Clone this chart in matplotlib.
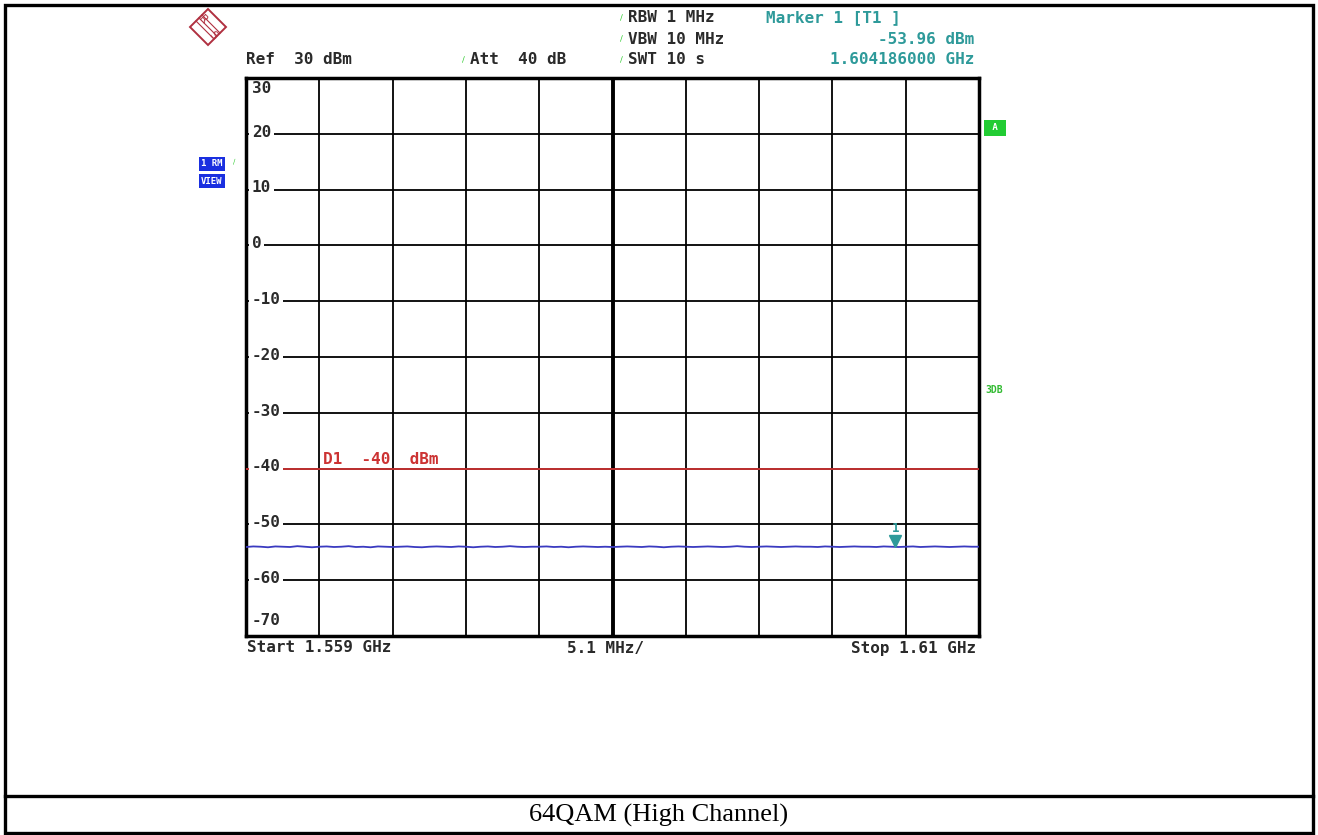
import matplotlib
matplotlib.use("Agg")
import matplotlib.pyplot as plt
from matplotlib.patches import Rectangle, Polygon
import numpy as np

# ---------------- data ----------------
f_start_ghz = 1.559
f_stop_ghz = 1.61
ref_level = 30
y_bottom = -70
ytick_values = [30, 20, 10, 0, -10, -20, -30, -40, -50, -60, -70]
limit_d1 = -40
marker_freq = 1.604186
marker_level = -53.96
# noise trace (dBm), sampled evenly from start to stop
trace_levels = [
    -54.05, -53.95, -54.0, -54.1, -53.95, -54.0, -54.05, -53.9, -54.0, -54.1,
    -54.0, -53.95, -54.05, -54.0, -53.9, -54.05, -54.0, -54.1, -53.95, -54.0,
    -54.05, -54.0, -53.95, -54.05, -54.1, -54.0, -53.95, -54.0, -54.05, -53.95,
    -54.0, -54.1, -54.0, -53.95, -54.05, -54.0, -53.9, -54.0, -54.05, -54.0,
    -54.0, -53.95, -54.05, -54.0, -54.1, -54.0, -53.95, -54.0, -54.05, -54.0,
    -54.05, -54.0, -53.95, -54.0, -54.05, -53.95, -54.0, -54.1, -54.0, -53.95,
    -54.0, -54.05, -54.0, -53.95, -54.0, -54.05, -54.0, -53.9, -54.0, -54.05,
    -54.0, -53.95, -54.0, -54.05, -54.0, -53.95, -54.0, -54.0, -54.05, -53.95,
    -54.0, -54.05, -54.0, -53.95, -54.0, -54.0, -54.05, -53.95, -54.0, -54.05,
    -54.0, -53.95, -54.05, -54.0, -53.95, -54.0, -54.05, -54.0, -53.95, -54.0,
    -54.0,
]
header_left = ["Ref  30 dBm", "Att  40 dB"]
header_mid = ["RBW 1 MHz", "VBW 10 MHz", "SWT 10 s"]
header_marker = ["Marker 1 [T1 ]", "-53.96 dBm", "1.604186000 GHz"]
footer = ["Start 1.559 GHz", "5.1 MHz/", "Stop 1.61 GHz"]
caption = "64QAM (High Channel)"

# ---------------- styling ----------------
W, H = 1318, 835
fig = plt.figure(figsize=(W / 100, H / 100), dpi=100)
fig.patch.set_facecolor("white")

def fx(px):
    return px / W

def fy(py):
    return 1 - py / H

mono = dict(family="DejaVu Sans Mono", fontweight="bold", fontsize=11.5)
teal = "#2e9a9a"
dark = "#2a2a2a"
red = "#cc3333"
blue = "#3a3ac0"
green = "#33cc33"
logo_red = "#b03040"

# outer table frame
fig.add_artist(Rectangle((fx(5), fy(833)), fx(1313 - 5), fy(5) - fy(833),
                         fill=False, lw=2.4, ec="black", transform=fig.transFigure))
fig.add_artist(plt.Line2D([fx(5), fx(1313)], [fy(796), fy(796)], lw=2.4,
                          color="black", transform=fig.transFigure))
fig.text(fx(659), fy(815), caption, ha="center", va="center",
         family="Liberation Serif", fontsize=19, color="black")

# axes
L, R, T, B = 246, 979, 78, 636
ax = fig.add_axes([fx(L), fy(B), fx(R - L), fy(T) - fy(B)])
ax.set_xlim(f_start_ghz, f_stop_ghz)
ax.set_ylim(y_bottom, ref_level)
ax.set_xticks([])
ax.set_yticks([])
for s in ax.spines.values():
    s.set_linewidth(2.5)
    s.set_color("black")

xgrid = np.linspace(f_start_ghz, f_stop_ghz, 11)
for i, xv in enumerate(xgrid[1:-1], start=1):
    ax.axvline(xv, color="black", lw=2.8 if i == 5 else 1.3, zorder=1)
for yv in ytick_values[1:-1]:
    ax.axhline(yv, color="black", lw=1.3, zorder=1)

# y labels
for yv in ytick_values:
    if yv == ref_level:
        ax.text(0.008, yv - 1.8, str(yv), transform=ax.get_yaxis_transform(),
                ha="left", va="center", color=dark, zorder=4, **mono)
    elif yv == y_bottom:
        ax.text(0.008, yv + 2.8, str(yv), transform=ax.get_yaxis_transform(),
                ha="left", va="center", color=dark, zorder=4, **mono)
    else:
        ax.text(0.008, yv + 0.3, str(yv), transform=ax.get_yaxis_transform(),
                ha="left", va="center", color=dark, zorder=4,
                bbox=dict(boxstyle="square,pad=0.15", fc="white", ec="none"), **mono)

# limit line
ax.axhline(limit_d1, color=red, lw=1.3, zorder=3)
ax.text(f_start_ghz + (f_stop_ghz - f_start_ghz) * 0.105, limit_d1 + 0.2,
        "D1  -40  dBm", color=red, ha="left", va="bottom", zorder=4, **mono)

# trace
freqs = np.linspace(f_start_ghz, f_stop_ghz, len(trace_levels))
ax.plot(freqs, trace_levels, color=blue, lw=1.3, zorder=3)

# marker
ax.plot([marker_freq], [marker_level + 0.9], marker="v", color=teal,
        markersize=8, zorder=5)
ax.text(marker_freq, marker_level + 3.3, "1", color=teal, ha="center",
        va="center", zorder=5, family="DejaVu Sans Mono", fontweight="bold",
        fontsize=9)

# R&S logo
cx, cy, r = 208, 27, 18
logo = Polygon([[fx(cx - r), fy(cy)], [fx(cx), fy(cy - r)], [fx(cx + r), fy(cy)],
                [fx(cx), fy(cy + r)]], closed=True, fill=True, fc="white",
               ec=logo_red, lw=1.4, transform=fig.transFigure)
fig.add_artist(logo)
for off in (-3, 0, 3):
    fig.add_artist(plt.Line2D([fx(cx - 9 + off), fx(cx + 9 + off)],
                              [fy(cy - 9 - off), fy(cy + 9 - off)], lw=0.8,
                              color=logo_red, transform=fig.transFigure))
fig.text(fx(cx - 5), fy(cy - 7), "R", ha="center", va="center", color=logo_red,
         fontsize=8, rotation=-45)
fig.text(fx(cx + 5), fy(cy + 8), "S", ha="center", va="center", color=logo_red,
         fontsize=8, rotation=-45)

# header texts
fig.text(fx(246), fy(60), header_left[0], ha="left", va="center", color=dark, **mono)
fig.text(fx(462), fy(60), "\u2215", ha="left", va="center", color=green, fontsize=6)
fig.text(fx(470), fy(60), header_left[1], ha="left", va="center", color=dark, **mono)
for i, t in enumerate(header_mid):
    yy = 18 + 21 * i
    fig.text(fx(620), fy(yy), "\u2215", ha="left", va="center", color=green, fontsize=6)
    fig.text(fx(628), fy(yy), t, ha="left", va="center", color=dark, **mono)
fig.text(fx(766), fy(18), header_marker[0], ha="left", va="center", color=teal, **mono)
fig.text(fx(974), fy(39), header_marker[1], ha="right", va="center", color=teal, **mono)
fig.text(fx(974), fy(60), header_marker[2], ha="right", va="center", color=teal, **mono)

# footer texts
fig.text(fx(247), fy(648), footer[0], ha="left", va="center", color=dark, **mono)
fig.text(fx(567), fy(648), footer[1], ha="left", va="center", color=dark, **mono)
fig.text(fx(976), fy(648), footer[2], ha="right", va="center", color=dark, **mono)

# left indicator boxes
fig.text(fx(212), fy(164), "1 RM", ha="center", va="center", color="white",
         family="DejaVu Sans Mono", fontweight="bold", fontsize=6.5,
         bbox=dict(boxstyle="square,pad=0.3", fc="#1a2fe0", ec="none"))
fig.text(fx(212), fy(181), "VIEW", ha="center", va="center", color="white",
         family="DejaVu Sans Mono", fontweight="bold", fontsize=6.5,
         bbox=dict(boxstyle="square,pad=0.3", fc="#1a2fe0", ec="none"))
fig.text(fx(233), fy(161), "\u2215", ha="left", va="center", color=green, fontsize=5)

# right indicators
fig.text(fx(995), fy(128), " A ", ha="center", va="center", color="white",
         family="DejaVu Sans Mono", fontweight="bold", fontsize=6.5,
         bbox=dict(boxstyle="square,pad=0.35", fc="#22cc33", ec="none"))
fig.text(fx(985), fy(390), "3DB", ha="left", va="center", color="#33bb33",
         family="DejaVu Sans Mono", fontweight="bold", fontsize=7)

fig.savefig("out.png", dpi=100)
